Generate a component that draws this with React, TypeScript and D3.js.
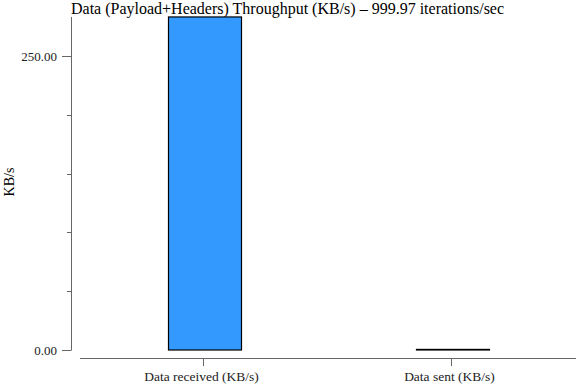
import React from "react";
import * as d3 from "d3";

const categories = ["Data received (KB/s)", "Data sent (KB/s)"];
const values = [283.2, 0.5];
const majorTicks = [0, 250];
const minorTicks = [50, 100, 150, 200];
const title = "Data (Payload+Headers) Throughput (KB/s) \u2013 999.97 iterations/sec";
const yLabel = "KB/s";

export default function App() {
  const W = 576, H = 384;
  const y = d3.scaleLinear().domain([0, 250]).range([350, 56]);
  const x = d3.scaleBand().domain(categories).range([80, 576]).paddingInner(0).paddingOuter(0);
  const bw = 73;
  const fs = { fontFamily: '"Liberation Serif"' };
  const axisColor = "#666";
  return (
    <svg width={W} height={H} style={{ position: "absolute", left: 0, top: 0 }}>
      <text x={71} y={14} fontSize={16} fill="#000" style={fs}>{title}</text>
      {/* y axis */}
      <line x1={71.5} x2={71.5} y1={y(283.2)} y2={y(0)} stroke={axisColor} />
      {majorTicks.map((t) => (
        <g key={t}>
          <line x1={62} x2={71.5} y1={Math.round(y(t)) + 0.5} y2={Math.round(y(t)) + 0.5} stroke={axisColor} />
          <text x={57} y={y(t) + 4.5} fontSize={13} textAnchor="end" fill="#222" style={fs}>{t.toFixed(2)}</text>
        </g>
      ))}
      {minorTicks.map((t) => (
        <line key={t} x1={67} x2={71.5} y1={Math.round(y(t)) + 0.5} y2={Math.round(y(t)) + 0.5} stroke={axisColor} />
      ))}
      <text transform={`translate(14,${182}) rotate(-90)`} fontSize={14} textAnchor="middle" fill="#000" style={fs}>{yLabel}</text>
      {/* x axis */}
      <line x1={80} x2={576} y1={358.5} y2={358.5} stroke={axisColor} />
      {categories.map((c) => {
        const cx = Math.round((x(c) as number) + x.bandwidth() / 2) - 0.5;
        return (
          <g key={c}>
            <line x1={cx} x2={cx} y1={358.5} y2={366} stroke={axisColor} />
            <text x={cx - 2} y={381} fontSize={13.5} textAnchor="middle" fill="#222" style={fs}>{c}</text>
          </g>
        );
      })}
      {/* bars */}
      {categories.map((c, i) => {
        const cx = (x(c) as number) + x.bandwidth() / 2;
        const top = y(values[i]);
        return (
          <rect key={c} x={Math.round(cx - bw / 2) + 0.5} y={top} width={bw} height={Math.max(0, y(0) - top)}
            fill="#3399ff" stroke="#000" strokeWidth={1.2} />
        );
      })}
    </svg>
  );
}
